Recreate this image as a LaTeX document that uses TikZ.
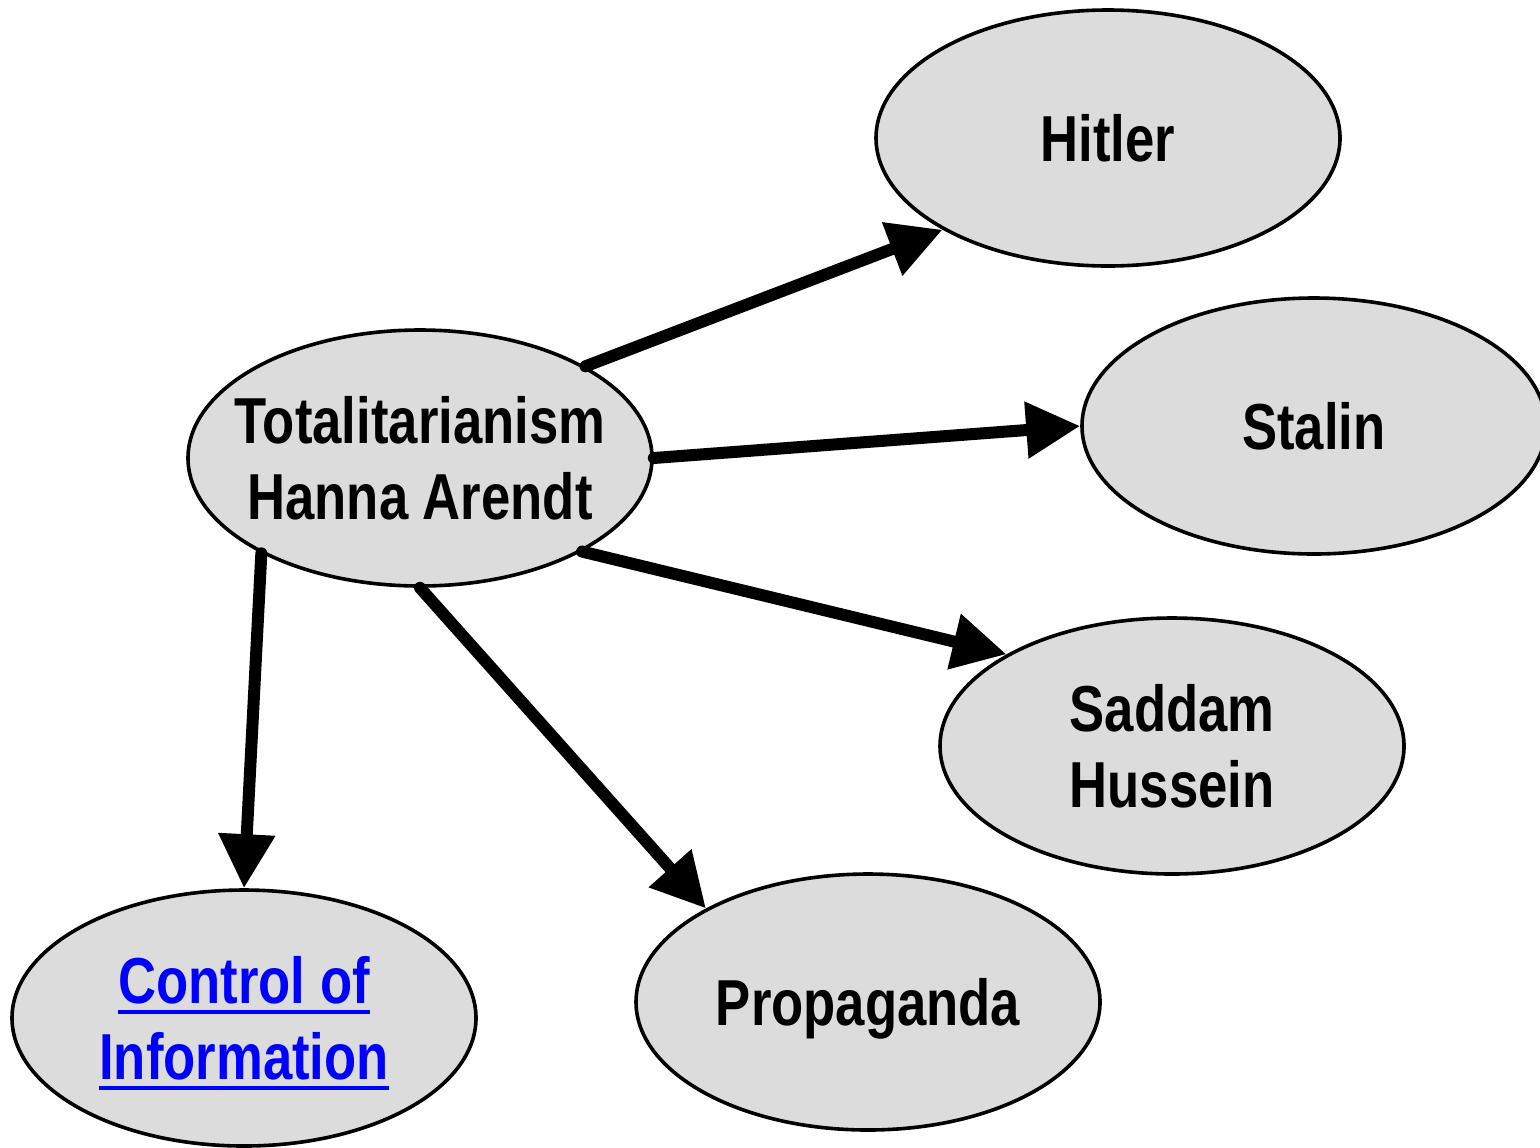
\documentclass[tikz,border=0pt]{standalone}
\usepackage{fontspec}
\setmainfont{Liberation Sans}[FakeStretch=0.81]
\usetikzlibrary{shapes.geometric,arrows.meta}
\definecolor{bubble}{RGB}{220,220,220}
\definecolor{linkblue}{RGB}{0,0,255}
% underlined link text with a heavy rule
\newcommand\linkline[1]{\setbox0\hbox{#1}\rlap{\rule[-5pt]{\wd0}{2pt}}\box0}
\begin{document}
\begin{tikzpicture}[x=0.5pt,y=-0.5pt,
  topic/.style={ellipse,draw,line width=1.8pt,fill=bubble,
    minimum width=232pt,minimum height=128pt,inner xsep=-20pt,inner ysep=0pt,
    align=center,font=\bfseries\fontsize{32.5pt}{38pt}\selectfont},
  link/.style={line width=6pt,line cap=round,
    -{Triangle[length=27pt,width=27pt]}}]
\useasboundingbox (0,0) rectangle (1540,1147);

\node[topic] (tot)   at (420,458)  {Totalitarianism\\Hanna Arendt};
\node[topic] (hit)   at (1108,138) {Hitler};
\node[topic] (stal)  at (1314,426) {Stalin};
\node[topic] (sad)   at (1172,746) {Saddam\\Hussein};
\node[topic,text depth=0pt] (prop)  at (868,1002) {Propaganda};
\node[topic,text=linkblue,text depth=0pt] (ctrl) at (244,1018)
  {\linkline{Control of}\\\linkline{Information}};

\draw[link] (tot.29.4)  -- (hit.209.2);
\draw[link] (tot.east)  -- (stal.west);
\draw[link] (tot.330.8) -- (sad.151.5);
\draw[link] (tot.south) -- (prop.150.9);
\draw[link] (tot.211)   -- (ctrl.north);
\end{tikzpicture}
\end{document}
